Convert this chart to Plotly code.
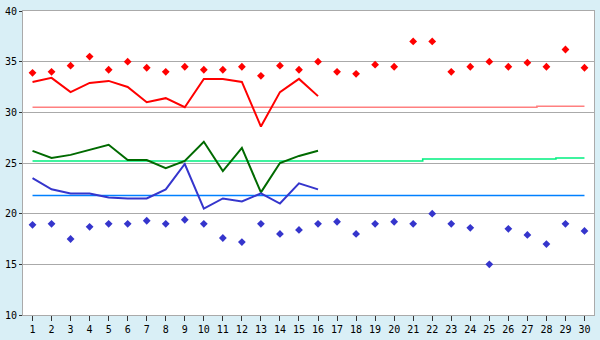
import plotly.graph_objects as go

days = list(range(1, 31))
tick_labels = [str(d) for d in days]

red_points = [33.9, 34.0, 34.6, 35.5, 34.2, 35.0, 34.4, 34.0, 34.5, 34.2,
              34.2, 34.5, 33.6, 34.6, 34.2, 35.0, 34.0, 33.8, 34.7, 34.5,
              37.0, 37.0, 34.0, 34.5, 35.0, 34.5, 34.9, 34.5, 36.2, 34.4]
blue_points = [18.9, 19.0, 17.5, 18.7, 19.0, 19.0, 19.3, 19.0, 19.4, 19.0,
               17.6, 17.2, 19.0, 18.0, 18.4, 19.0, 19.2, 18.0, 19.0, 19.2,
               19.0, 20.0, 19.0, 18.6, 15.0, 18.5, 17.9, 17.0, 19.0, 18.3]

line_days = list(range(1, 17))
red_line = [33.0, 33.4, 32.0, 32.9, 33.1, 32.5, 31.0, 31.4, 30.5, 33.3,
            33.3, 33.0, 28.6, 32.0, 33.3, 31.6]
green_line = [26.2, 25.5, 25.8, 26.3, 26.8, 25.3, 25.3, 24.5, 25.2, 27.1,
              24.2, 26.5, 22.1, 25.0, 25.7, 26.2]
blue_line = [23.5, 22.4, 22.0, 22.0, 21.6, 21.5, 21.5, 22.4, 24.9, 20.5,
             21.5, 21.2, 22.0, 21.0, 23.0, 22.4]

red_ref = [30.5] * 27 + [30.6] * 3
green_ref = [25.2] * 21 + [25.4] * 7 + [25.5] * 2
blue_ref = [21.8] * 30

fig = go.Figure()

for vals, col in [(red_ref, "#FF8080"), (green_ref, "#00F080"), (blue_ref, "#0080FF")]:
    fig.add_trace(go.Scatter(x=days, y=vals, mode="lines",
                             line=dict(color=col, width=1.6, shape="hvh"),
                             hoverinfo="skip"))

for vals, col in [(red_line, "#FF0000"), (green_line, "#006A00"), (blue_line, "#3535CC")]:
    fig.add_trace(go.Scatter(x=line_days, y=vals, mode="lines",
                             line=dict(color=col, width=2)))

for vals, col in [(red_points, "#FF0000"), (blue_points, "#3535CC")]:
    fig.add_trace(go.Scatter(x=days, y=vals, mode="markers",
                             marker=dict(symbol="diamond", size=6, color=col,
                                         line=dict(width=0))))

fig.update_layout(
    width=600, height=340,
    margin=dict(l=20, r=5, t=5, b=20),
    paper_bgcolor="#D9EFF6",
    plot_bgcolor="#FFFFFF",
    showlegend=False,
    font=dict(family="DejaVu Sans Mono", size=10, color="#000000"),
)
fig.update_xaxes(
    range=[0.5, 30.5], tickmode="array", tickvals=days, ticktext=tick_labels,
    showgrid=False, zeroline=False,
    showline=True, linecolor="#AAAAAA", linewidth=1, mirror=True,
    ticks="outside", ticklen=5, tickcolor="#333333", tickwidth=1,
)
fig.update_yaxes(
    range=[10, 40], tickmode="array", tickvals=[10, 15, 20, 25, 30, 35, 40],
    showgrid=True, gridcolor="#AAAAAA", gridwidth=1, zeroline=False,
    showline=True, linecolor="#AAAAAA", linewidth=1, mirror=True,
    ticks="outside", ticklen=3, tickcolor="#333333", tickwidth=1,
)

fig.write_html("out.html")
